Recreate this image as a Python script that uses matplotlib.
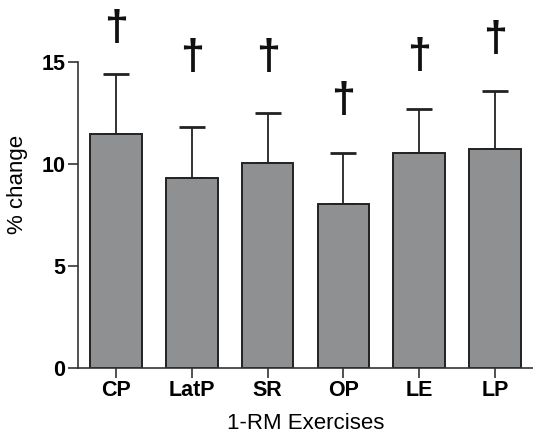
import numpy as np
import matplotlib.pyplot as plt

plt.rcParams['font.family'] = ['Liberation Sans', 'DejaVu Sans']

exercises = ['CP', 'LatP', 'SR', 'OP', 'LE', 'LP']
change = [11.45, 9.3, 10.05, 8.05, 10.55, 10.75]
err_up = [2.95, 2.5, 2.45, 2.5, 2.15, 2.85]
dagger_y = [16.6, 15.2, 15.2, 13.1, 15.25, 16.1]

fig = plt.figure(figsize=(5.33, 4.34), dpi=100)
ax = fig.add_axes([78 / 533, 1 - 368 / 434, 1 - 78 / 533, 368 / 434])

x = np.arange(len(exercises))
ax.bar(x, change, width=0.68, color='#8f9092', edgecolor='#222222', linewidth=1.4, zorder=2)
ax.errorbar(x, change, yerr=[np.zeros(len(x)), err_up], fmt='none', ecolor='#222222',
            elinewidth=1.3, capsize=9.5, capthick=2.0, zorder=1)
for xi, yi in zip(x, dagger_y):
    ax.text(xi, yi, '\u2020', ha='center', va='center', fontsize=31, fontweight='bold',
            color='#111111')

ax.set_xlim(-0.5, 5.5)
ax.set_ylim(0, 368 / 20.4)
ax.set_yticks([0, 5, 10, 15])
ax.set_xticks(x)
ax.set_xticklabels(exercises, fontsize=15.5, fontweight='bold')
for lbl in ax.get_yticklabels():
    lbl.set_fontweight('bold')
    lbl.set_fontsize(15.5)
ax.spines['top'].set_visible(False)
ax.spines['right'].set_visible(False)
ax.spines['left'].set_bounds(0, 15)
for s in ['left', 'bottom']:
    ax.spines[s].set_linewidth(1.2)
    ax.spines[s].set_color('#333333')
ax.tick_params(axis='both', length=7, width=1.2, color='#333333', pad=2)
ax.set_ylabel('% change', fontsize=16, labelpad=10)
ax.set_xlabel('1-RM Exercises', fontsize=16, labelpad=8)

fig.savefig('out.png', dpi=100)
